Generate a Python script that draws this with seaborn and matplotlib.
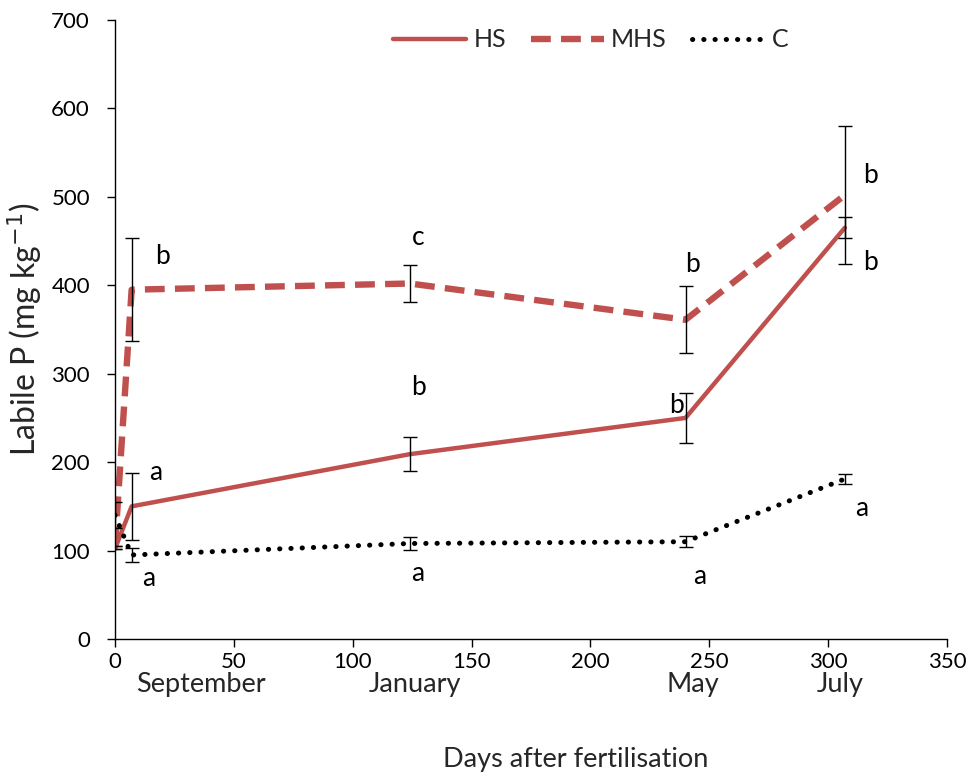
import matplotlib
matplotlib.use("Agg")
import matplotlib.pyplot as plt
import seaborn as sns
import pandas as pd
import numpy as np

sns.set_style("white")
plt.rcParams['font.family'] = ['Lato', 'DejaVu Sans']

days = [0, 7, 124, 240, 307]
hs = [102, 150, 209, 250, 465]
hs_err = [0, 38, 19, 28, 12]
mhs = [105, 395, 402, 361, 502]
mhs_err = [0, 58, 21, 38, 78]
c = [140, 95, 108, 110, 181]
c_err = [15, 8, 7, 6, 6]
series = ["HS", "MHS", "C"]

letters = [
    ("b", 20, 432), ("a", 17, 188), ("a", 14, 68),
    ("c", 127.5, 454), ("b", 127.5, 284), ("a", 127.5, 74),
    ("b", 243, 423), ("b", 236, 264), ("a", 246, 71),
    ("b", 318, 524), ("b", 318, 426), ("a", 314, 148),
]
months = [("September", 36), ("January", 126), ("May", 243), ("July", 305)]

df = pd.DataFrame({
    "day": days * 3,
    "value": hs + mhs + c,
    "series": ["HS"] * 5 + ["MHS"] * 5 + ["C"] * 5,
})

red = "#C0504D"
fig = plt.figure(figsize=(9.74, 7.8), dpi=100)
ax = fig.add_axes([115 / 974, 1 - 639 / 780, (947 - 115) / 974, (639 - 20) / 780])

styles = {
    "HS": dict(color=red, lw=3.2, ls="-"),
    "MHS": dict(color=red, lw=4.6, ls=(0, (3.1, 1.6))),
    "C": dict(color="black", lw=3.6, ls=(0, (0.05, 2.2)), dash_capstyle="round"),
}
for s in series:
    sub = df[df["series"] == s]
    sns.lineplot(data=sub, x="day", y="value", ax=ax, label=s, **styles[s])

for vals, errs in [(hs, hs_err), (mhs, mhs_err), (c, c_err)]:
    ax.errorbar(days, vals, yerr=errs, fmt="none", ecolor="black", elinewidth=1.0,
                capsize=5, capthick=1.0, zorder=5)

for t, x, y in letters:
    ax.text(x, y, t, fontsize=19, ha="center", va="center", color="black")

ax.set_xlim(0, 350)
ax.set_ylim(0, 700)
ax.set_xticks(np.arange(0, 351, 50))
ax.set_yticks(np.arange(0, 701, 100))
ax.tick_params(axis="both", labelsize=16, direction="out", length=6, width=1,
               colors="black", left=True, bottom=True)
ax.tick_params(axis="y", pad=12)
for sp in ["top", "right"]:
    ax.spines[sp].set_visible(False)
for sp in ["left", "bottom"]:
    ax.spines[sp].set_color("black")
    ax.spines[sp].set_linewidth(1.0)

for m, x in months:
    ax.text(x, -52, m, fontsize=19.5, ha="center", va="center")
ax.set_xlabel("Days after fertilisation", fontsize=19.5)
ax.xaxis.set_label_coords(0.554, -0.195)
ax.xaxis.label.set_va("center")
ax.set_ylabel("Labile P (mg kg$^{-1}$)", fontsize=23, labelpad=5)

leg = ax.legend(loc="center", bbox_to_anchor=(0.572, 0.968), ncol=3, frameon=False,
                fontsize=18, handlelength=2.9, columnspacing=1.0, handletextpad=0.3)

fig.savefig("out.png", dpi=100)
